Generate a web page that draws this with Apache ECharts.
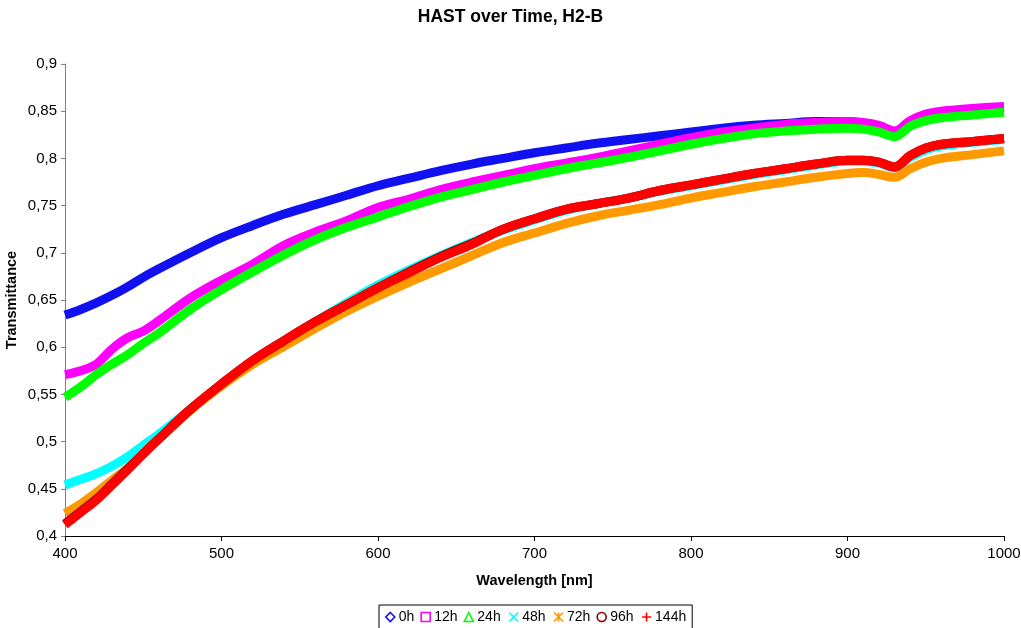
<!DOCTYPE html>
<html>
<head>
<meta charset="utf-8">
<title>HAST over Time, H2-B</title>
<script src="https://cdn.jsdelivr.net/npm/echarts@6/dist/echarts.min.js"></script>
<style>
  html, body { margin: 0; padding: 0; background: #fff; }
  #chart { width: 1021px; height: 628px; }
</style>
</head>
<body>
<div id="chart"></div>
<script>
// Wavelength grid [nm]
const wavelengths = [400, 410, 420, 430, 440, 450, 460, 480, 500, 520, 540, 560, 580, 600, 620, 640, 660, 680, 700, 720, 740, 760, 780, 800, 820, 840, 860, 880, 900, 910, 920, 930, 940, 950, 960, 980, 1000];

// Transmittance per exposure time
const t0h   = [0.634, 0.640, 0.647, 0.655, 0.664, 0.674, 0.683, 0.700, 0.716, 0.729, 0.741, 0.751, 0.761, 0.771, 0.779, 0.787, 0.794, 0.800, 0.806, 0.811, 0.816, 0.820, 0.824, 0.828, 0.832, 0.835, 0.837, 0.839, 0.839, 0.837, 0.833, 0.827, 0.838, 0.845, 0.848, 0.852, 0.854];
const t12h  = [0.571, 0.575, 0.582, 0.598, 0.610, 0.617, 0.628, 0.652, 0.671, 0.688, 0.708, 0.722, 0.734, 0.748, 0.757, 0.767, 0.775, 0.782, 0.789, 0.795, 0.801, 0.808, 0.815, 0.822, 0.828, 0.832, 0.836, 0.838, 0.839, 0.838, 0.835, 0.829, 0.840, 0.847, 0.850, 0.853, 0.855];
const t24h  = [0.547, 0.558, 0.571, 0.582, 0.592, 0.604, 0.615, 0.640, 0.661, 0.680, 0.698, 0.714, 0.727, 0.738, 0.749, 0.759, 0.767, 0.775, 0.782, 0.789, 0.795, 0.801, 0.808, 0.815, 0.821, 0.826, 0.829, 0.831, 0.832, 0.831, 0.828, 0.823, 0.834, 0.840, 0.843, 0.846, 0.849];
const t48h  = [0.454, 0.460, 0.466, 0.474, 0.484, 0.496, 0.508, 0.534, 0.560, 0.584, 0.606, 0.627, 0.647, 0.666, 0.682, 0.697, 0.711, 0.724, 0.735, 0.745, 0.752, 0.758, 0.765, 0.771, 0.777, 0.783, 0.788, 0.793, 0.797, 0.797, 0.795, 0.790, 0.801, 0.809, 0.813, 0.817, 0.820];
const t72h  = [0.424, 0.434, 0.446, 0.459, 0.472, 0.488, 0.503, 0.533, 0.559, 0.582, 0.601, 0.620, 0.638, 0.654, 0.669, 0.683, 0.697, 0.711, 0.721, 0.731, 0.739, 0.745, 0.751, 0.758, 0.764, 0.770, 0.775, 0.780, 0.784, 0.785, 0.783, 0.780, 0.789, 0.796, 0.800, 0.804, 0.808];
const t96h  = [0.413, 0.426, 0.439, 0.455, 0.471, 0.487, 0.503, 0.534, 0.561, 0.586, 0.607, 0.627, 0.645, 0.663, 0.680, 0.696, 0.710, 0.725, 0.736, 0.746, 0.752, 0.758, 0.766, 0.772, 0.778, 0.784, 0.789, 0.794, 0.798, 0.798, 0.796, 0.791, 0.803, 0.811, 0.815, 0.818, 0.821];
const t144h = [0.412, 0.425, 0.438, 0.454, 0.470, 0.487, 0.503, 0.534, 0.561, 0.586, 0.607, 0.627, 0.645, 0.663, 0.679, 0.695, 0.709, 0.725, 0.736, 0.746, 0.752, 0.758, 0.766, 0.772, 0.778, 0.784, 0.789, 0.794, 0.798, 0.798, 0.796, 0.791, 0.803, 0.811, 0.815, 0.818, 0.821];

const seriesNames  = ['0h', '12h', '24h', '48h', '72h', '96h', '144h'];
const seriesValues = [t0h, t12h, t24h, t48h, t72h, t96h, t144h];
const seriesColors = ['#1010F0', '#FF00FF', '#00FF00', '#00FFFF', '#FF9900', '#800000', '#FF0000'];
const legendIcons  = [
  'diamond',
  'rect',
  'triangle',
  'path://M0,0L10,10M10,0L0,10',
  'path://M0,0L10,10M10,0L0,10M5,0L5,10',
  'circle',
  'path://M5,0L5,10M0,5L10,5'
];

const xTicks = { min: 400, max: 1000, step: 100 };
const yTicks = { min: 0.4, max: 0.9, step: 0.05 };

const FONT = '"Liberation Sans", Arial, sans-serif';

const chart = echarts.init(document.getElementById('chart'), null, { renderer: 'canvas' });

const series = seriesNames.map((name, i) => ({
  name: name,
  type: 'line',
  data: wavelengths.map((w, k) => [w, seriesValues[i][k]]),
  showSymbol: false,
  symbol: 'none',
  smooth: 0.35,
  lineStyle: { color: seriesColors[i], width: 9 },
  itemStyle: { color: seriesColors[i] },
  z: 2 + i,
  animation: false
}));

const legendData = seriesNames.map((name, i) => {
  const stroked = legendIcons[i].startsWith('path://');
  return {
    name: name,
    icon: legendIcons[i],
    itemStyle: {
      color: stroked ? 'none' : '#fff',
      borderColor: seriesColors[i],
      borderWidth: 1.6
    }
  };
});

chart.setOption({
  backgroundColor: '#fff',
  animation: false,
  title: {
    text: 'HAST over Time, H2-B',
    left: 'center',
    top: 3,
    textStyle: { fontFamily: FONT, fontSize: 17.5, fontWeight: 'bold', color: '#000' }
  },
  grid: { left: 65, right: 17, top: 64, bottom: 92, containLabel: false, outerBoundsMode: 'none' },
  legend: {
    data: legendData,
    top: 605,
    left: 379,
    itemWidth: 9,
    itemHeight: 9,
    itemGap: 6,
    padding: [5, 6, 5, 6],
    borderColor: '#000',
    borderWidth: 1,
    textStyle: { fontFamily: FONT, fontSize: 14, color: '#000', padding: [0, 0, 0, -1] }
  },
  xAxis: {
    type: 'value',
    min: xTicks.min,
    max: xTicks.max,
    interval: xTicks.step,
    name: 'Wavelength [nm]',
    nameLocation: 'middle',
    nameGap: 37,
    nameMoveOverlap: false,
    nameTextStyle: { fontFamily: FONT, fontSize: 14.5, fontWeight: 'bold', color: '#000' },
    axisLine: { onZero: false, lineStyle: { color: '#000', width: 1 } },
    axisTick: { show: true, inside: false, length: 5, lineStyle: { color: '#000' } },
    axisLabel: {
      fontFamily: FONT, fontSize: 15, color: '#000', margin: 10,
      formatter: v => String(v)
    },
    splitLine: { show: false }
  },
  yAxis: {
    type: 'value',
    min: yTicks.min,
    max: yTicks.max,
    interval: yTicks.step,
    name: 'Transmittance',
    nameLocation: 'middle',
    nameGap: 46,
    nameMoveOverlap: false,
    nameTextStyle: { fontFamily: FONT, fontSize: 14.5, fontWeight: 'bold', color: '#000' },
    axisLine: { show: true, lineStyle: { color: '#808080', width: 1 } },
    axisTick: { show: true, inside: false, length: 4, lineStyle: { color: '#808080' } },
    axisLabel: {
      fontFamily: FONT, fontSize: 15, color: '#000', margin: 8,
      formatter: v => String(Number(v.toFixed(2))).replace('.', ',')
    },
    splitLine: { show: false }
  },
  series: series
});
</script>
</body>
</html>
